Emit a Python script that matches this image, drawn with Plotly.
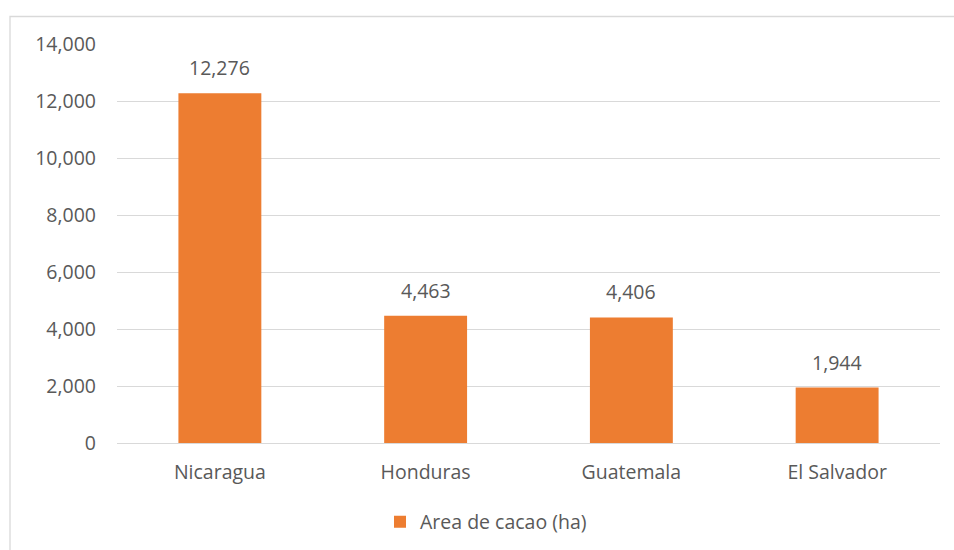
import plotly.graph_objects as go

categories = ["Nicaragua", "Honduras", "Guatemala", "El Salvador"]
values = [12276, 4463, 4406, 1944]
series_name = "Area de cacao (ha)"
y_ticks = [0, 2000, 4000, 6000, 8000, 10000, 12000, 14000]

ORANGE = "#ED7D31"
TEXT = "#595959"
GRID = "#D9D9D9"
FONT = "Open Sans"
FS = 19.5

W, H = 954, 550
ML, MR, MT, MB = 117, 14, 43.5, 107.3
pw = W - ML - MR
ph = H - MT - MB

fig = go.Figure()
fig.add_trace(go.Bar(
    x=categories, y=values, name=series_name,
    marker=dict(color=ORANGE, line=dict(width=0)),
    width=0.403, showlegend=True,
))

for c, v in zip(categories, values):
    fig.add_annotation(x=c, y=v, text=f"{v:,}", showarrow=False,
                       yanchor="bottom", yshift=10,
                       font=dict(family=FONT, size=FS, color=TEXT))

def px_to_paper_x(px):
    return (px - ML) / pw

def px_to_paper_y(py):
    return (H - MB - py) / ph

# chart border (partially off-canvas, like the reference)
fig.add_shape(type="rect", xref="paper", yref="paper",
              x0=px_to_paper_x(10), x1=px_to_paper_x(W + 20),
              y0=px_to_paper_y(H + 20), y1=px_to_paper_y(16),
              line=dict(color=GRID, width=1.3), layer="below")

fig.update_layout(
    width=W, height=H,
    margin=dict(l=ML, r=MR, t=MT, b=MB, pad=0),
    paper_bgcolor="white", plot_bgcolor="white",
    font=dict(family=FONT, size=FS, color=TEXT),
    bargap=0.597,
    legend=dict(orientation="h", xref="container", yref="container",
                x=486 / W, xanchor="center", y=1 - 522 / H, yanchor="middle",
                font=dict(family=FONT, size=FS, color=TEXT),
                itemwidth=30),
    xaxis=dict(showgrid=False, showline=False, ticks="",
               ticklabelstandoff=15, tickfont=dict(size=FS, color=TEXT)),
    yaxis=dict(range=[0, 14000], tickvals=y_ticks,
               ticktext=[f"{t:,}" for t in y_ticks],
               showgrid=True, gridcolor=GRID, gridwidth=1.3,
               zeroline=True, zerolinecolor=GRID, zerolinewidth=1.3,
               showline=False, ticks="", ticklabelstandoff=20,
               tickfont=dict(size=FS, color=TEXT)),
)

fig.write_html("out.html",
               config={"displayModeBar": False},
               post_script="document.body.style.margin='0';document.body.style.overflow='hidden';")
